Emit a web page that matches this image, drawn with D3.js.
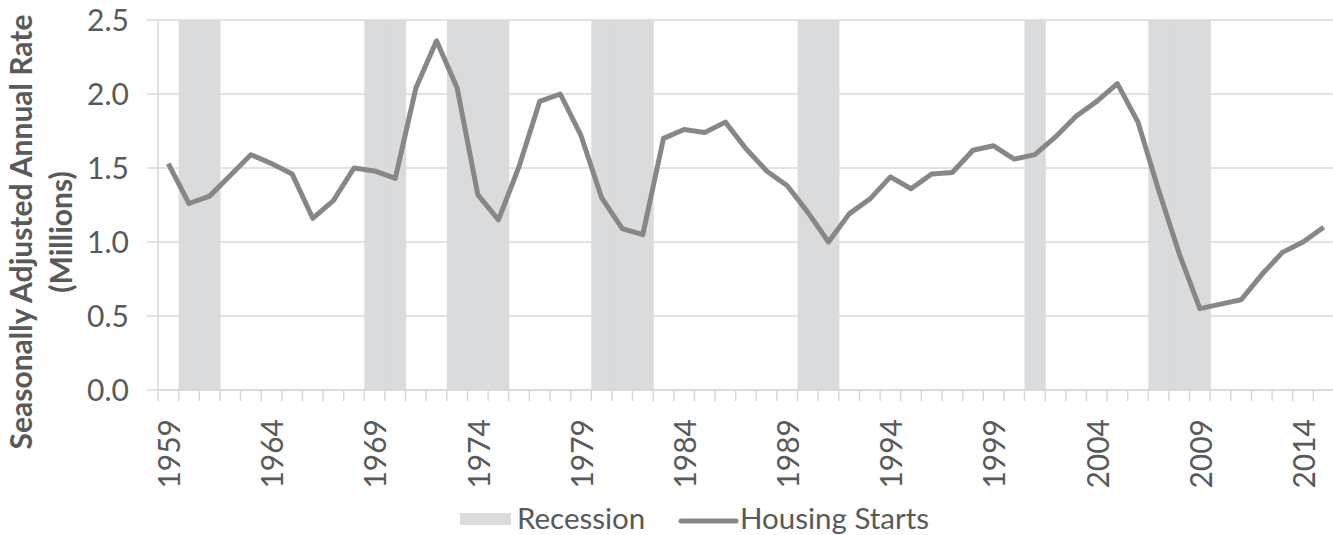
<!DOCTYPE html>
<html>
<head>
<meta charset="utf-8">
<script src="https://cdn.jsdelivr.net/npm/d3@7"></script>
<style>
  html, body { margin: 0; padding: 0; background: #fff; }
  svg { display: block; font-family: Lato, "Open Sans", sans-serif; }
</style>
</head>
<body>
<svg id="chart"></svg>
<script>
// Chart data
const years = d3.range(1959, 2016);
const housingStarts = [
  1.53, 1.26, 1.31, 1.45, 1.59, 1.53, 1.46, 1.16, 1.28, 1.50,
  1.48, 1.43, 2.04, 2.36, 2.04, 1.32, 1.15, 1.51, 1.95, 2.00,
  1.72, 1.30, 1.09, 1.05, 1.70, 1.76, 1.74, 1.81, 1.63, 1.48,
  1.38, 1.20, 1.00, 1.19, 1.29, 1.44, 1.36, 1.46, 1.47, 1.62,
  1.65, 1.56, 1.59, 1.71, 1.85, 1.95, 2.07, 1.81, 1.35, 0.92,
  0.55, 0.58, 0.61, 0.78, 0.93, 1.00, 1.10
];
const recessionYears = [1960, 1961, 1969, 1970, 1973, 1974, 1975, 1980, 1981, 1982,
  1990, 1991, 2001, 2007, 2008, 2009];
const yTicks = [0, 0.5, 1.0, 1.5, 2.0, 2.5];
const labelYears = years.filter((d, i) => i % 5 === 0);

// Layout
const width = 1333;
const height = 535;
const plot = { left: 158, right: 1334, top: 20, bottom: 390 };

const svg = d3.select('#chart')
  .attr('width', width)
  .attr('height', height);

const xScale = d3.scaleBand()
  .domain(years)
  .range([plot.left, plot.right])
  .padding(0);

const yScale = d3.scaleLinear()
  .domain([0, 2.5])
  .range([plot.bottom, plot.top]);

const gridColor = '#d9d9d9';
const textColor = '#595959';

// Horizontal gridlines (with outside tick marks)
svg.append('g')
  .selectAll('line')
  .data(yTicks)
  .enter().append('line')
  .attr('x1', plot.left - 11)
  .attr('x2', plot.right)
  .attr('y1', d => yScale(d))
  .attr('y2', d => yScale(d))
  .attr('stroke', gridColor)
  .attr('stroke-width', 1.5);

// Recession bands
svg.append('g')
  .selectAll('rect')
  .data(recessionYears)
  .enter().append('rect')
  .attr('x', d => xScale(d))
  .attr('y', plot.top)
  .attr('width', xScale.bandwidth() + 0.6)
  .attr('height', plot.bottom - plot.top)
  .attr('fill', '#dadbdd');

// Y axis line
svg.append('line')
  .attr('x1', plot.left).attr('x2', plot.left)
  .attr('y1', plot.top).attr('y2', plot.bottom)
  .attr('stroke', gridColor)
  .attr('stroke-width', 1.5);

// X axis with tick marks between categories
const xAxis = svg.append('g');
xAxis.append('line')
  .attr('x1', plot.left).attr('x2', plot.right)
  .attr('y1', plot.bottom).attr('y2', plot.bottom)
  .attr('stroke', gridColor)
  .attr('stroke-width', 1.5);

xAxis.selectAll('.tick')
  .data(years)
  .enter().append('line')
  .attr('class', 'tick')
  .attr('x1', d => xScale(d))
  .attr('x2', d => xScale(d))
  .attr('y1', plot.bottom)
  .attr('y2', plot.bottom + 11)
  .attr('stroke', gridColor)
  .attr('stroke-width', 1.5);

xAxis.selectAll('.x-label')
  .data(labelYears)
  .enter().append('text')
  .attr('class', 'x-label')
  .attr('transform', d => `translate(${xScale(d) + xScale.bandwidth() / 2 + 1},${plot.bottom + 29}) rotate(-90)`)
  .attr('text-anchor', 'end')
  .attr('dy', '0.36em')
  .attr('font-size', 30)
  .attr('fill', textColor)
  .text(d => d);

// Y tick labels
svg.append('g')
  .selectAll('text')
  .data(yTicks)
  .enter().append('text')
  .attr('x', 129)
  .attr('y', d => yScale(d))
  .attr('dy', '0.36em')
  .attr('text-anchor', 'end')
  .attr('font-size', 30)
  .attr('fill', textColor)
  .text(d => d.toFixed(1));

// Y axis title
const title = svg.append('text')
  .attr('transform', 'translate(0,232) rotate(-90)')
  .attr('text-anchor', 'middle')
  .attr('font-size', 30)
  .attr('font-weight', 'bold')
  .attr('fill', textColor);
title.append('tspan').attr('x', 0).attr('y', 32).text('Seasonally Adjusted Annual Rate');
title.append('tspan').attr('x', 0).attr('y', 72).text('(Millions)');

// Housing starts line
const line = d3.line()
  .x((d, i) => xScale(years[i]) + xScale.bandwidth() / 2)
  .y(d => yScale(d));

svg.append('path')
  .datum(housingStarts)
  .attr('d', line)
  .attr('fill', 'none')
  .attr('stroke', '#878787')
  .attr('stroke-width', 5)
  .attr('stroke-linejoin', 'round');

// Legend
const legend = svg.append('g');
legend.append('rect')
  .attr('x', 460).attr('y', 513)
  .attr('width', 51).attr('height', 12)
  .attr('fill', '#dadbdd');
legend.append('text')
  .attr('x', 517).attr('y', 529)
  .attr('font-size', 29.5)
  .attr('fill', textColor)
  .text('Recession');
legend.append('line')
  .attr('x1', 681).attr('x2', 736)
  .attr('y1', 521).attr('y2', 521)
  .attr('stroke', '#878787')
  .attr('stroke-width', 5)
  .attr('stroke-linecap', 'round');
legend.append('text')
  .attr('x', 740).attr('y', 529)
  .attr('font-size', 29.5)
  .attr('fill', textColor)
  .text('Housing Starts');
</script>
</body>
</html>
